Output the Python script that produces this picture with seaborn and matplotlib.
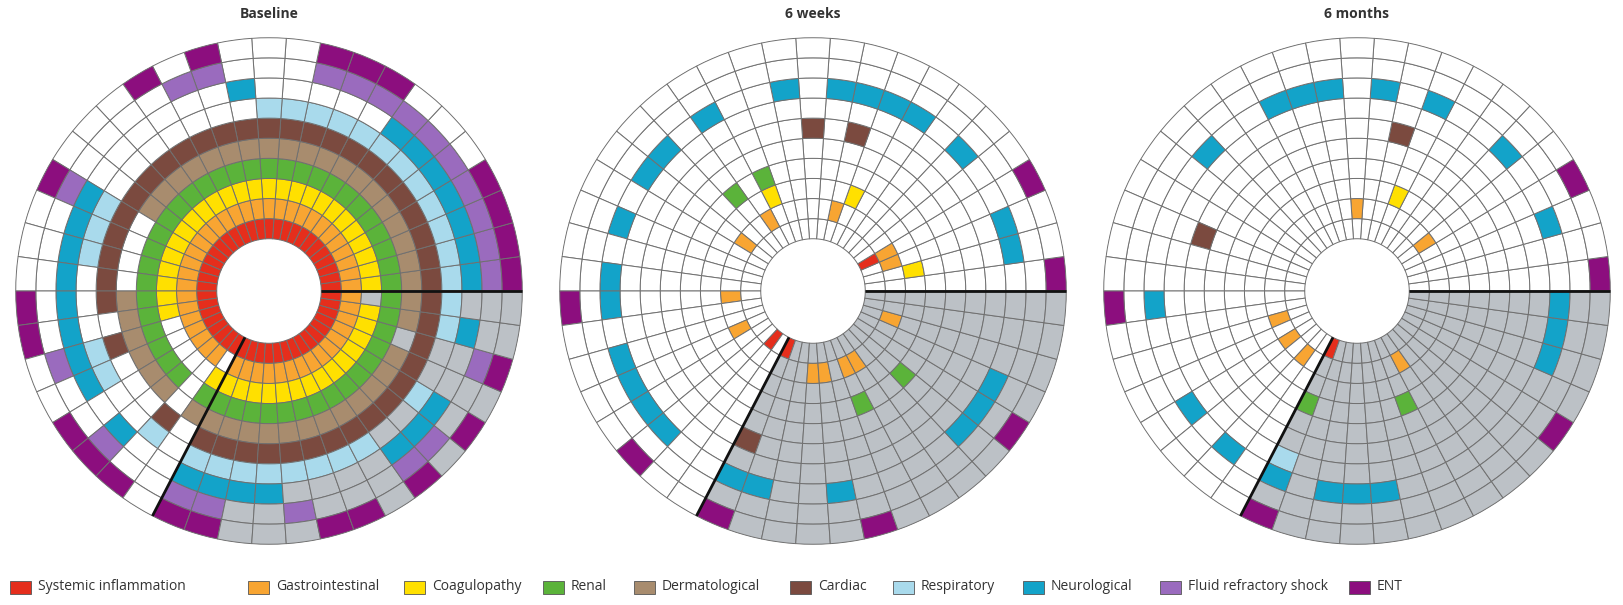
import numpy as np
import matplotlib
matplotlib.use("Agg")
import matplotlib.pyplot as plt
import seaborn as sns
from matplotlib.patches import Rectangle
from matplotlib import font_manager

# ---------------------------------------------------------------------------
# Data: one wedge per patient (46), one ring per organ-system category.
# Patient positions run anticlockwise from the horizontal (3 o'clock) line.
# ---------------------------------------------------------------------------
N_PATIENTS = 46

categories = [
    "Systemic inflammation", "Gastrointestinal", "Coagulopathy", "Renal",
    "Dermatological", "Cardiac", "Respiratory", "Neurological",
    "Fluid refractory shock", "ENT",
]
category_colors = [
    "#E52E1C", "#F8A532", "#FFE000", "#5BB33A", "#A88C6E",
    "#7B4A3F", "#A9DAEC", "#13A3C9", "#9A6BBE", "#8C0E7E",
]
timepoints = ["Baseline", "6 weeks", "6 months"]

# patients shaded grey where a feature is not recorded
grey_patients = [31, 32, 33, 34, 35, 36, 37, 38, 39, 40, 41, 42, 43, 44, 45]

baseline_cases = {
    "Systemic inflammation": [0, 1, 2, 3, 4, 5, 6, 7, 8, 9, 10, 11, 12, 13, 14, 15, 16, 17, 18, 19, 20, 21, 22,
                              23, 24, 25, 26, 27, 28, 29, 30, 31, 32, 33, 34, 35, 36, 37, 38, 39, 40, 41, 42, 43, 44, 45],
    "Gastrointestinal": [0, 1, 2, 3, 4, 5, 6, 7, 8, 9, 10, 11, 12, 13, 14, 15, 16, 17, 18, 19, 20, 21, 22,
                         23, 24, 25, 26, 27, 28, 29, 31, 32, 33, 34, 35, 36, 37, 38, 39, 40, 41, 42, 43, 44, 45],
    "Coagulopathy": [0, 1, 2, 3, 4, 5, 6, 7, 8, 9, 10, 11, 12, 13, 14, 15, 16, 17, 18, 19, 20, 21, 22,
                     23, 24, 30, 31, 32, 33, 34, 35, 36, 37, 38, 39, 40, 41, 42, 43, 44],
    "Renal": [0, 1, 2, 3, 4, 5, 6, 7, 8, 9, 10, 11, 12, 13, 14, 15, 16, 17, 18, 19, 20, 21, 22,
              23, 24, 25, 26, 27, 28, 30, 31, 32, 33, 34, 35, 36, 37, 38, 39, 40, 41, 42, 43, 44, 45],
    "Dermatological": [0, 1, 2, 3, 4, 5, 6, 7, 8, 9, 10, 11, 12, 13, 14, 15, 16, 17, 18,
                       23, 24, 25, 26, 27, 28, 30, 31, 32, 33, 34, 35, 36, 37, 38, 39, 40, 41, 42, 44, 45],
    "Cardiac": [0, 1, 2, 3, 4, 5, 6, 7, 8, 9, 10, 11, 12, 13, 14, 15, 16, 17, 18, 19, 20, 21, 22,
                23, 25, 29, 31, 32, 33, 34, 35, 36, 37, 38, 39, 40, 41, 42, 43, 44, 45],
    "Respiratory": [0, 1, 2, 3, 4, 5, 6, 7, 8, 9, 10, 11, 19, 20, 21, 25, 26, 29,
                    31, 32, 33, 34, 35, 36, 37, 38, 41, 44, 45],
    "Neurological": [0, 1, 2, 3, 4, 5, 6, 12, 19, 20, 21, 22, 23, 24, 25, 26, 28,
                     31, 32, 33, 34, 39, 40, 41, 44],
    "Fluid refractory shock": [0, 1, 2, 3, 4, 5, 6, 7, 8, 9, 13, 14, 19, 25, 28, 31, 32, 35, 39, 40, 43],
    "ENT": [0, 1, 2, 3, 7, 8, 9, 13, 15, 19, 23, 24, 27, 28, 29, 31, 32, 36, 37, 39, 41, 43],
}

week6_cases = {
    "Systemic inflammation": [3, 29, 31],
    "Gastrointestinal": [2, 3, 9, 15, 18, 23, 26, 34, 35, 37, 38, 43],
    "Coagulopathy": [1, 8, 14],
    "Renal": [14, 16, 37, 40],
    "Dermatological": [],
    "Cardiac": [9, 11, 31],
    "Respiratory": [],
    "Neurological": [1, 2, 5, 7, 8, 9, 10, 12, 15, 17, 18, 20, 22, 23, 25, 26, 27, 28,
                     31, 32, 35, 40, 41, 42],
    "Fluid refractory shock": [],
    "ENT": [0, 3, 23, 28, 31, 36, 41],
}

month6_cases = {
    "Systemic inflammation": [31],
    "Gastrointestinal": [4, 11, 25, 27, 29, 38],
    "Coagulopathy": [8],
    "Renal": [31, 37],
    "Dermatological": [],
    "Cardiac": [9, 20],
    "Respiratory": [31],
    "Neurological": [2, 5, 8, 10, 12, 13, 14, 17, 23, 27, 29, 31, 33, 34, 35, 43, 44, 45],
    "Fluid refractory shock": [],
    "ENT": [0, 3, 23, 31, 41],
}

# ---------------------------------------------------------------------------
# Styling
# ---------------------------------------------------------------------------
sns.set_theme(style="white")
available = {f.name for f in font_manager.fontManager.ttflist}
main_font = "Open Sans" if "Open Sans" in available else "DejaVu Sans"
plt.rcParams["font.family"] = [main_font, "DejaVu Sans"]

palette = dict(zip(categories, sns.color_palette(category_colors)))
GREY = "#BCC1C6"
EDGE = "#707070"
TEXT = "#333333"

W, H = 1623, 605
HOLE = 2.6                       # radius of the empty centre, in ring units
PX_PER_RING = 20.1
R_LIM = HOLE + len(categories) + 0.05
wheel_centres = [(269, 291), (813, 291), (1357, 291)]


def draw_wheel(ax, cases):
    width = 2 * np.pi / N_PATIENTS
    theta = (np.arange(N_PATIENTS) + 0.5) * width
    grey = set(grey_patients)
    for ring, cat in enumerate(categories):
        present = set(cases[cat])
        faces = [palette[cat] if p in present else (GREY if p in grey else "white")
                 for p in range(N_PATIENTS)]
        ax.bar(theta, 1.0, width=width, bottom=HOLE + ring, color=faces,
               edgecolor=EDGE, linewidth=0.7, align="center", zorder=2)
    # dividers at the start of the sequence and at the start of the grey group
    outer = HOLE + len(categories)
    for t in (0.0, grey_patients[0] * width):
        ax.plot([t, t], [HOLE, outer], color="#111111", lw=2.0,
                solid_capstyle="butt", zorder=5)
    ax.set_theta_zero_location("E")
    ax.set_theta_direction(1)
    ax.set_ylim(0, R_LIM)
    ax.set_axis_off()


fig = plt.figure(figsize=(W / 100, H / 100), dpi=100)
fig.patch.set_facecolor("white")
ra = R_LIM * PX_PER_RING

for (cx, cy), title, cases in zip(wheel_centres, timepoints,
                                  [baseline_cases, week6_cases, month6_cases]):
    ax = fig.add_axes([(cx - ra) / W, (H - cy - ra) / H, 2 * ra / W, 2 * ra / H],
                      projection="polar")
    draw_wheel(ax, cases)
    fig.text(cx / W, 1 - 14 / H, title, ha="center", va="center",
             fontsize=10, fontweight="bold", color=TEXT)

# legend row along the bottom
legend_x = [10, 248, 404, 543, 634, 790, 893, 1023, 1160, 1349]
legend_y = 587
sq_w, sq_h = 21, 13
for x, cat in zip(legend_x, categories):
    fig.patches.append(Rectangle((x / W, (H - legend_y - sq_h / 2) / H), sq_w / W, sq_h / H,
                                 transform=fig.transFigure, facecolor=palette[cat],
                                 edgecolor="#555555", linewidth=0.6))
    fig.text((x + sq_w + 7) / W, (H - legend_y) / H, cat, ha="left", va="center",
             fontsize=10, color=TEXT)

fig.savefig("out.png", dpi=100, facecolor="white")
